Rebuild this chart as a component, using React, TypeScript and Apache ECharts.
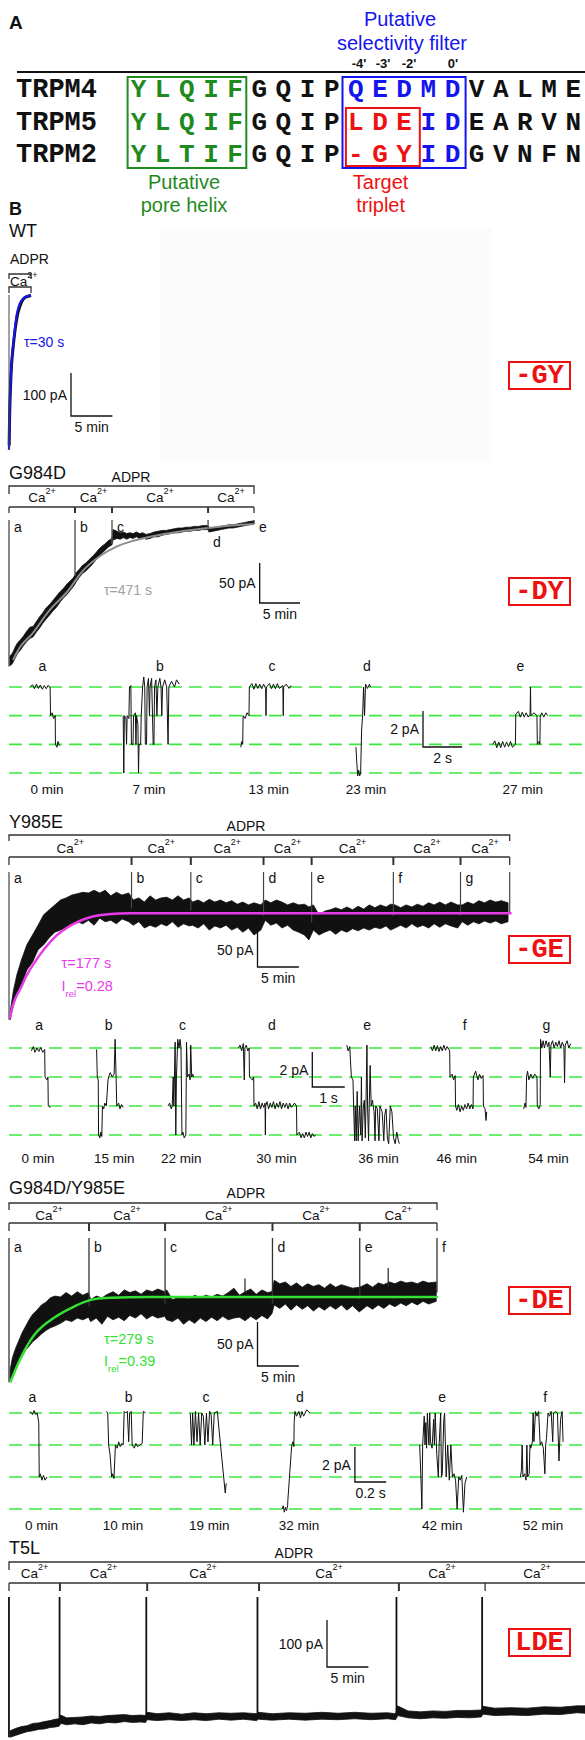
import React, { useEffect, useRef } from "react";
import * as echarts from "echarts";

const SANS = 'Arial, "Liberation Sans", Helvetica, sans-serif';
const MONO = '"Liberation Mono", "Courier New", "DejaVu Sans Mono", monospace';

const C_GREEN = "#1f8a1f";
const C_BLUE = "#1414ee";
const C_RED = "#ee1111";
const C_MAG = "#e83ae8";
const C_LIME = "#33e033";
const C_DASH = "#3ee83e";
const C_GRAY = "#8c8c8c";
const C_INK = "#111111";

// ===================== A: alignment =====================
const SEQ_NAMES = ["TRPM4", "TRPM5", "TRPM2"];
const SEQ_TRPM4 = ["Y","L","Q","I","F","G","Q","I","P","Q","E","D","M","D","V","A","L","M","E"];
const SEQ_TRPM5 = ["Y","L","Q","I","F","G","Q","I","P","L","D","E","I","D","E","A","R","V","N"];
const SEQ_TRPM2 = ["Y","L","T","I","F","G","Q","I","P","-","G","Y","I","D","G","V","N","F","N"];
// g = pore helix, k = other, b = selectivity filter, r = target triplet
const CLS_TRPM4 = "gggggkkkkbbbbbkkkkk";
const CLS_TRPM5 = "gggggkkkkrrrbbkkkkk";
const CLS_TRPM2 = "gggggkkkkrrrbbkkkkk";
const PRIME_LABELS = ["-4'", "-3'", "-2'", "0'"];

// ===================== B: WT (min, pA) =====================
const WT_TRACE = [[0.02,-350],[0.1,-262],[0.3,-165],[0.55,-112],[0.8,-72],[1.1,-40],[1.5,-17],[1.9,-6],[2.3,-3],[2.66,-1]];
const WT_FIT = [[0,-360],[0.05,-300],[0.11,-244],[0.2,-195],[0.34,-151],[0.45,-125],[0.57,-105],[0.74,-74],[0.97,-42],[1.32,-19],[1.78,-7],[2.2,-3],[2.66,-1]];
const WT_SPIKES = [[0, 0, -360]];
const WT_CA_TIMES = [0, 2.66];

// ===================== G984D (min, pA) =====================
const DY_BAND = [
  [0.1,-182,-170],[0.3,-181,-168],[0.5,-178,-165],[0.8,-172,-158],[1.1,-166,-153],[1.4,-163,-150],[1.8,-157,-145],[2.2,-152,-139],
  [2.6,-148,-134],[3.0,-146,-133],[3.4,-140,-127],[3.8,-135,-121],[4.2,-129,-116],[4.6,-124,-110],[5.1,-118,-105],[5.5,-113,-100],
  [5.9,-109,-95],[6.3,-103,-90],[6.8,-97,-85],[7.2,-93,-80],[7.6,-88,-76],[8.0,-83,-72],[8.2,-80,-68],
  [8.3,-78,-66],[8.7,-72,-62],[9.1,-67,-57],[9.5,-64,-54],[9.9,-60,-50],[10.3,-56,-46],[10.7,-51,-42],[11.1,-46,-37],
  [11.5,-42,-33],[11.9,-38,-30],[12.3,-34,-26],[12.78,-31,-23],
  [12.9,-25,-12],[13.4,-23,-14],[13.8,-24,-16],[14.2,-22,-15],[14.6,-24,-17],[15.0,-22,-16],[15.4,-23,-17],[15.8,-21,-15],
  [16.2,-23,-17],[16.6,-22,-16],[17.0,-24,-18],[17.5,-23,-17],[18.0,-21,-15],[18.5,-21,-14],[19.0,-19,-13],[19.5,-18,-13],
  [20.0,-17,-12],[20.5,-16,-11],[21.0,-16,-10],[21.5,-15,-10],[22.0,-14,-9],[22.5,-14,-9],[23.0,-13,-8],[23.5,-13,-8],
  [24.0,-12,-7],[24.7,-12,-7],
  [24.8,-15,-9],[25.3,-14,-10],[25.8,-13,-9],[26.3,-12,-8],[26.8,-11,-7],[27.3,-10,-6],[27.8,-10,-6],[28.3,-9,-5],
  [28.8,-8,-4],[29.3,-7,-3],[29.8,-6,-2],[30.4,-5,-1]
];
const DY_FIT = [[0.5,-175],[1.5,-157],[2.98,-141],[5.09,-112],[7.2,-90],[9.2,-63],[11.3,-45],[13.4,-33],[15.4,-26],[17.5,-21],[19.6,-17],[22.1,-13],[24.7,-10],[27.5,-7],[30.4,-5]];
const DY_SPIKES = [[0, 0, -183], [8.19, -70, 0], [12.78, -30, 0], [24.7, -12, 0], [30.4, -5, 0]];
const DY_CA_TIMES = [0, 8.19, 12.78, 24.7, 30.4];
const DY_LETTERS = ["a", "b", "c", "d", "e"];

// ===================== Y985E (min, pA) =====================
const GE_BAND = [
  [0.14,-211,-200],[0.54,-190,-169],[0.95,-176,-147],[1.49,-161,-126],[2.16,-140,-104],[2.84,-129,-90],[3.51,-111,-76],
  [4.19,-104,-61],[4.86,-94,-54],[5.54,-86,-47],[6.22,-83,-40],[6.89,-80,-37],[7.57,-76,-33],[8.24,-71,-31],[8.92,-74,-29],
  [9.59,-69,-30],[10.27,-76,-26],[10.95,-66,-30],[11.62,-71,-26],[12.3,-69,-34],[12.97,-74,-29],[13.65,-67,-33],[14.46,-71,-30],
  [15.0,-76,-40],[15.68,-71,-37],[16.35,-80,-43],[17.03,-76,-34],[17.7,-79,-40],[18.38,-74,-37],[19.05,-77,-36],[19.73,-71,-40],
  [20.41,-79,-34],[21.08,-74,-40],[21.76,-77,-37],[22.16,-76,-43],[22.84,-80,-40],[23.51,-74,-44],[24.19,-83,-39],[24.86,-77,-43],
  [25.54,-80,-40],[26.22,-76,-44],[26.89,-83,-41],[27.57,-79,-46],[28.24,-86,-43],[28.92,-80,-47],[29.59,-90,-44],[30.41,-83,-47],
  [30.95,-69,-40],[31.62,-76,-44],[32.3,-73,-40],[32.97,-80,-43],[33.65,-76,-47],[34.32,-83,-44],[35.0,-86,-47],[35.68,-90,-46],
  [36.22,-97,-50],[36.76,-83,-47],[37.43,-90,-61],[38.11,-86,-56],[38.78,-83,-54],[39.46,-89,-51],[40.14,-83,-54],[40.81,-86,-50],
  [41.49,-81,-54],[42.16,-84,-49],[42.84,-80,-53],[43.51,-83,-47],[44.19,-79,-51],[44.86,-81,-47],[45.54,-77,-50],[46.08,-83,-46],
  [46.62,-80,-47],[47.3,-76,-51],[47.97,-80,-47],[48.65,-74,-50],[49.32,-79,-46],[50.0,-76,-49],[50.68,-80,-44],[51.35,-74,-47],
  [52.03,-79,-43],[52.7,-74,-47],[53.38,-77,-43],[54.19,-80,-47],[54.73,-71,-47],[55.41,-76,-43],[56.08,-71,-46],[56.76,-74,-41],
  [57.43,-70,-44],[58.11,-73,-40],[58.78,-70,-43],[59.46,-74,-41],[60.27,-71,-44]
];
const GE_FIT = [[0.1,-209],[0.68,-183],[1.49,-164],[2.16,-147],[3.28,-126],[4.19,-111],[5.54,-93],[6.6,-83],[7.8,-74],[10.0,-64],[12.3,-60],[14.7,-59],[60.7,-59]];
const GE_SPIKES = [[0,0,-211],[14.8,-52,0],[21.96,-55,0],[30.74,-62,0],[36.55,-72,0],[46.42,-63,0],[54.53,-62,0],[60.47,-58,0]];
const GE_CA_TIMES = [0, 14.8, 21.96, 30.74, 36.55, 46.42, 54.53, 60.47];
const GE_LETTERS = ["a", "b", "c", "d", "e", "f", "g"];

// ===================== G984D/Y985E (min, pA) =====================
const DE_BAND = [
  [0.14,-164,-150],[0.41,-156,-136],[0.81,-148,-125],[1.22,-141,-116],[1.62,-134,-107],[2.03,-127,-100],[2.43,-123,-93],
  [2.84,-118,-87],[3.38,-114,-82],[3.92,-109,-76],[4.46,-105,-73],[5.0,-102,-68],[5.54,-100,-66],[6.22,-97,-67],[6.89,-93,-62],
  [7.57,-95,-66],[8.24,-91,-61],[8.92,-93,-65],[9.6,-90,-62],
  [9.86,-95,-70],[10.54,-91,-66],[11.22,-98,-68],[11.89,-89,-64],[12.57,-93,-61],[13.24,-90,-65],[13.92,-94,-59],[14.59,-88,-62],
  [15.27,-91,-60],[15.95,-86,-64],[16.62,-92,-59],[17.3,-88,-61],[17.97,-91,-58],[18.8,-89,-61],
  [19.05,-93,-59],[19.73,-95,-70],[20.41,-91,-68],[21.08,-98,-67],[21.76,-93,-69],[22.43,-97,-65],[23.11,-91,-68],[23.78,-95,-65],
  [24.46,-90,-67],[25.14,-94,-64],[25.81,-89,-66],[26.49,-93,-62],[27.16,-91,-57],[27.84,-90,-65],[28.51,-94,-61],[29.19,-89,-58],
  [29.86,-93,-64],[30.54,-88,-59],[31.22,-92,-62],[31.75,-86,-61],
  [32.03,-76,-48],[32.7,-80,-52],[33.38,-75,-50],[34.05,-82,-55],[34.73,-76,-51],[35.41,-81,-56],[36.08,-77,-52],[36.76,-83,-55],
  [37.43,-78,-53],[38.11,-82,-57],[38.78,-77,-52],[39.46,-81,-56],[40.14,-76,-53],[40.81,-82,-55],[41.49,-77,-57],[42.3,-84,-56],
  [42.57,-82,-55],[43.24,-77,-52],[43.92,-81,-56],[44.59,-76,-51],[45.27,-80,-53],[45.95,-75,-50],[46.62,-78,-52],[47.3,-74,-49],
  [47.97,-77,-51],[48.65,-73,-50],[49.32,-76,-52],[50.0,-72,-49],[50.68,-75,-51],[51.6,-72,-50]
];
const DE_FIT = [[0.14,-164],[0.36,-159],[1.49,-135],[3.24,-108],[5.54,-90],[7.84,-78],[10.0,-70],[12.3,-68],[16.8,-67],[51.8,-67]];
const DE_SPIKES = [[0,0,-164],[9.66,-78,0],[18.85,-75,0],[31.82,-75,0],[42.36,-70,0],[51.69,-62,0],[45.8,-55,-34],[28.5,-62,-46]];
const DE_CA_TIMES = [0, 9.66, 18.85, 31.82, 42.36, 51.69];
const DE_LETTERS = ["a", "b", "c", "d", "e", "f"];

// ===================== T5L (min, pA) =====================
const LDE_BAND = [
  [0.14,-304,-290],[0.8,-300,-285],[1.5,-296,-281],[2.2,-292,-279],[2.9,-290,-274],[3.6,-287,-273],[4.3,-286,-270],[5.0,-283,-268],
  [5.6,-282,-265],[6.1,-280,-264],
  [6.3,-274,-256],[7.0,-277,-262],[8.0,-275,-261],[9.0,-277,-260],[10.0,-273,-258],[11.0,-275,-259],[12.0,-272,-257],[13.0,-273,-256],
  [14.0,-270,-255],[15.0,-272,-257],[16.0,-271,-256],[16.6,-272,-257],
  [16.8,-266,-250],[18.0,-268,-253],[19.5,-266,-251],[21.0,-268,-254],[22.5,-266,-251],[24.0,-268,-253],[25.5,-265,-251],
  [27.0,-267,-252],[28.5,-265,-251],[30.1,-268,-253],
  [30.3,-265,-250],[32.0,-267,-253],[34.0,-265,-251],[36.0,-267,-252],[38.0,-265,-250],[40.0,-266,-252],[42.0,-264,-250],
  [44.0,-266,-252],[46.0,-264,-251],[47.0,-266,-253],
  [47.2,-257,-236],[48.5,-262,-247],[50.0,-264,-249],[51.5,-262,-247],[53.0,-263,-248],[54.5,-261,-246],[56.0,-262,-246],[57.4,-260,-245],
  [57.6,-254,-237],[59.0,-257,-241],[61.0,-256,-240],[63.0,-257,-241],[65.0,-254,-238],[67.0,-255,-239],[69.0,-251,-236],[70.0,-252,-236]
];
const LDE_SPIKES = [[0,0,-304],[6.15,-270,0],[16.69,-262,0],[30.2,-262,0],[47.09,-262,0],[57.5,-252,0]];
const LDE_CA_TIMES = [0, 6.15, 16.69, 30.2, 47.09, 57.5];

// ===================== single channel rows (s, unitary levels) =====================
const LEVELS = [0, -1, -2, -3];
const R1_UNIT_PA = 1.59;
const R2_UNIT_PA = 1.66;
const R3_UNIT_PA = 1.83;

const R1_A = [[1.09,0],[1.2,0.08],[1.3,-0.06],[1.4,0.1],[1.5,-0.05],[1.6,0.07],[1.7,-0.08],[1.8,0.05],[1.9,-0.06],[2.0,0.06],[2.1,-0.02],[2.12,-1],[2.2,-0.9],[2.28,-1.1],[2.36,-1],[2.37,-2],[2.45,-2.1],[2.5,-1.9],[2.57,-2.05]];
const R1_B = [[5.83,-1],[5.86,-3],[5.89,-1],[5.97,-1.1],[6.0,-2],[6.03,-1],[6.12,-1.1],[6.15,0],[6.22,0.05],[6.25,-2],[6.33,-2],[6.36,-1],[6.45,-0.9],[6.48,-2],[6.51,-1],[6.58,-1.3],[6.61,-3],[6.64,-2],[6.72,-2],[6.75,-1],[6.82,0],[6.88,0.35],[6.93,0],[6.96,-2],[7.02,-2],[7.05,0],[7.12,0.3],[7.17,-1],[7.2,0],[7.28,0.3],[7.36,-2],[7.4,-2],[7.43,0],[7.5,0.25],[7.55,-1],[7.6,0],[7.7,0.3],[7.76,0],[7.8,-1],[7.84,0],[7.95,0.25],[8.05,0],[8.12,-2],[8.16,0],[8.3,0.2],[8.45,0],[8.55,0.25],[8.69,0.1]];
const R1_C = [[11.83,-2.1],[11.88,-1.9],[11.93,-2],[11.95,-1],[12.05,-1.1],[12.15,-0.9],[12.25,-1],[12.27,0],[12.4,0.12],[12.5,-0.08],[12.6,0.12],[12.7,-0.05],[12.8,0.1],[12.9,-0.06],[13.0,0.1],[13.1,-0.05],[13.12,-1],[13.14,0],[13.3,0.12],[13.4,-0.06],[13.5,0.1],[13.6,-0.06],[13.7,0.12],[13.8,-0.05],[13.98,0.05],[14.0,-1],[14.02,0],[14.15,0.1],[14.3,-0.05],[14.4,0.05]];
const R1_D = [[17.71,-2.1],[17.75,-2.6],[17.8,-3.1],[17.85,-2.9],[17.9,-3.1],[17.95,-3.0],[18.0,-1.5],[18.05,-1],[18.1,0],[18.15,-1],[18.2,0.1],[18.3,-0.05],[18.4,0.1],[18.45,0]];
const R1_E = [[24.69,-2],[24.8,-1.88],[24.9,-2.12],[25.0,-1.92],[25.1,-2.12],[25.2,-1.9],[25.3,-2.1],[25.4,-1.92],[25.5,-2.08],[25.6,-1.9],[25.7,-2.1],[25.85,-2],[25.87,-0.95],[26.0,-0.85],[26.1,-1.05],[26.2,-0.88],[26.3,-1.05],[26.4,-0.9],[26.5,-1.05],[26.6,-0.95],[26.62,0],[26.64,-1],[26.8,-0.9],[26.95,-1],[26.97,-2],[27.05,-1.9],[27.1,-2],[27.12,-1],[27.2,-0.9],[27.3,-1.05],[27.4,-0.9],[27.5,-1]];
const R1_LETTERS = ["a", "b", "c", "d", "e"];
const R1_TIMES = ["0 min", "7 min", "13 min", "23 min", "27 min"];

const R2_A = [[0.69,-0.1],[0.75,0.05],[0.8,-0.15],[0.86,0],[0.92,-0.12],[0.98,0.02],[1.04,-0.15],[1.1,-0.05],[1.11,-1],[1.17,-1.1],[1.2,-1.0],[1.21,-2],[1.28,-2.05]];
const R2_B = [[2.7,-0.05],[2.72,-1],[2.75,-1.1],[2.76,-3],[2.8,-3.1],[2.83,-2.9],[2.86,-3.05],[2.88,-2],[2.92,-2.1],[2.95,-1.9],[3.0,-2],[3.05,-1.1],[3.07,-1],[3.12,-0.85],[3.18,-1],[3.24,-0.9],[3.27,0.3],[3.3,-1],[3.32,-2],[3.38,-1.9],[3.42,-2.1],[3.47,-1.95],[3.52,-2.05]];
const R2_C = [[4.9,-2],[4.95,-1.9],[5.0,-2.1],[5.03,-2],[5.06,-1],[5.08,-2],[5.12,0.2],[5.14,-3],[5.16,-1],[5.2,0.3],[5.24,0],[5.27,0.3],[5.3,0],[5.33,-3],[5.36,-2.9],[5.4,-3.1],[5.45,-3],[5.47,0.2],[5.5,-1],[5.55,-0.9],[5.58,-1.1],[5.6,0.1],[5.63,-1],[5.66,-0.9],[5.69,-1]];
const R2_D = [[7.07,0],[7.12,0.1],[7.17,-0.1],[7.22,0.15],[7.25,-1.1],[7.27,0],[7.31,0.1],[7.36,-0.1],[7.4,0],[7.41,-1],[7.5,-1.1],[7.54,-1],[7.55,-2],[7.6,-1.9],[7.65,-2.1],[7.7,-1.85],[7.75,-2.1],[7.8,-1.9],[7.85,-2.05],[7.89,-1.9],[7.9,-3],[7.91,-2],[7.95,-1.85],[8.0,-2.1],[8.05,-1.9],[8.1,-2.05],[8.15,-1.85],[8.2,-2.1],[8.25,-1.9],[8.3,-2.05],[8.35,-1.85],[8.4,-2.1],[8.45,-1.9],[8.5,-2.05],[8.55,-1.9],[8.6,-2.1],[8.65,-1.9],[8.7,-2.05],[8.8,-1.9],[8.86,-2],[8.87,-3],[8.95,-2.9],[9.0,-3.1],[9.05,-2.95],[9.1,-3.1],[9.15,-2.9],[9.2,-3.05],[9.25,-2.9],[9.3,-3.1],[9.35,-2.95],[9.4,-3.05],[9.45,-3]];
const R2_E = [[10.41,0.1],[10.45,-0.1],[10.5,0.05],[10.55,-1],[10.6,-1.1],[10.62,-2],[10.65,-3.2],[10.67,-2],[10.7,-3.2],[10.73,-1.5],[10.76,-3.2],[10.8,-2],[10.84,-3],[10.86,-1],[10.88,-3.2],[10.92,-2],[10.95,-1.8],[10.98,-3.1],[11.0,-2],[11.03,0.1],[11.05,-2],[11.08,-3.2],[11.1,-2],[11.13,-0.6],[11.16,-2],[11.2,-1.8],[11.25,-2.2],[11.28,-3.2],[11.3,-2],[11.35,-2.1],[11.4,-3.2],[11.43,-2],[11.5,-2.2],[11.55,-3.2],[11.58,-2.3],[11.62,-2.1],[11.66,-3.1],[11.7,-3.3],[11.75,-2],[11.8,-2.2],[11.85,-3.1],[11.9,-3.3],[11.95,-2.9],[12.0,-3.2],[12.03,-3.3]];
const R2_F = [[13.0,0.05],[13.05,-0.1],[13.1,0.1],[13.15,-0.1],[13.2,0.08],[13.25,-0.12],[13.3,0.05],[13.35,-0.1],[13.4,0.1],[13.45,-0.08],[13.5,0.05],[13.58,-0.1],[13.59,-1],[13.65,-0.9],[13.7,-1.1],[13.75,-0.95],[13.76,-2],[13.8,-2.15],[13.85,-1.95],[13.9,-2.2],[13.95,-2],[14.0,-2.15],[14.05,-1.95],[14.1,-2.1],[14.15,-1.9],[14.2,-2.1],[14.25,-1.95],[14.3,-2.1],[14.31,-1],[14.38,-0.8],[14.45,-1.1],[14.5,-0.9],[14.55,-1.05],[14.61,-0.95],[14.62,-2],[14.67,-2.1],[14.7,-2.5],[14.72,-2.2]];
const R2_G = [[15.86,-2.1],[15.9,-1.9],[15.93,-2.05],[15.95,-1],[15.98,-0.8],[16.02,-1.1],[16.08,-0.9],[16.14,-1.05],[16.2,-0.9],[16.27,-1],[16.28,-2],[16.33,-2.1],[16.37,-1.95],[16.38,0.3],[16.42,0],[16.46,0.25],[16.5,0],[16.55,0.25],[16.6,0.05],[16.64,0.2],[16.68,-1],[16.7,0.1],[16.75,0.25],[16.8,0],[16.85,0.2],[16.9,0.05],[16.95,0.25],[17.0,0],[17.05,0.2],[17.1,0.05],[17.12,-1.2],[17.14,0.1],[17.2,0.25],[17.25,0],[17.31,0.15]];
const R2_LETTERS = ["a", "b", "c", "d", "e", "f", "g"];
const R2_TIMES = ["0 min", "15 min", "22 min", "30 min", "36 min", "46 min", "54 min"];

const R3_A = [[0.136,0.05],[0.15,-0.05],[0.16,0.08],[0.17,-0.05],[0.18,0],[0.19,-0.3],[0.193,-2],[0.2,-1.9],[0.21,-2.1],[0.22,-1.95],[0.23,-2.1],[0.243,-2]];
const R3_B = [[0.621,0.05],[0.63,0],[0.636,-1],[0.645,-1.3],[0.655,-2],[0.662,-1.9],[0.67,-2.05],[0.679,-1],[0.69,-1.1],[0.7,-0.9],[0.71,-1.05],[0.72,-0.95],[0.729,-1],[0.735,0.05],[0.745,0],[0.755,0.05],[0.764,-0.9],[0.77,0],[0.78,0.05],[0.786,-1],[0.8,-1.1],[0.81,-0.95],[0.82,-1.05],[0.835,-1],[0.85,-0.95],[0.857,0.05],[0.871,0]];
const R3_C = [[1.157,0],[1.165,-1],[1.172,0],[1.18,-1],[1.19,0.05],[1.2,-0.9],[1.21,0],[1.22,-1],[1.23,0],[1.24,-0.1],[1.25,-1],[1.26,0],[1.27,-0.9],[1.28,0.05],[1.29,-0.05],[1.3,-1],[1.31,0],[1.33,0.05],[1.34,-0.5],[1.35,-1],[1.36,-1.5],[1.37,-2],[1.38,-2.5],[1.386,-2.2]];
const R3_D = [[1.743,-3],[1.75,-2.9],[1.757,-3.1],[1.764,-2.95],[1.771,-3.05],[1.778,-2.9],[1.78,-2.7],[1.79,-2],[1.8,-1.3],[1.805,-1],[1.812,-0.9],[1.818,-1.05],[1.82,-0.3],[1.825,0.05],[1.835,-0.1],[1.85,0.05],[1.86,-0.15],[1.87,0.05],[1.88,-0.1],[1.9,0.1],[1.921,0]];
const R3_E = [[2.621,-1],[2.63,-2.2],[2.635,-3],[2.64,-1],[2.65,-0.1],[2.655,-1],[2.66,-0.3],[2.665,-1.1],[2.67,0],[2.68,-1],[2.685,0],[2.69,-0.9],[2.7,-1.1],[2.71,-0.2],[2.715,-1],[2.72,0],[2.73,-1.3],[2.74,-2],[2.745,-1],[2.755,0],[2.76,-2],[2.765,-1.9],[2.775,-0.2],[2.78,0],[2.79,-2],[2.8,-1],[2.81,-2.1],[2.82,-1],[2.83,-2],[2.84,-1.9],[2.85,-2.1],[2.86,-3],[2.87,-2],[2.88,-2.1],[2.89,-1.95],[2.9,-3.1],[2.91,-2.2],[2.921,-2]];
const R3_F = [[3.264,-2],[3.27,-1.8],[3.275,-1],[3.28,-2],[3.29,-1.9],[3.3,-2.1],[3.305,-1],[3.31,-2],[3.32,-1.9],[3.325,-1],[3.33,-1.1],[3.34,-0.9],[3.345,0],[3.35,-0.9],[3.36,0.05],[3.37,-0.1],[3.38,0.05],[3.39,-1],[3.4,-0.9],[3.41,-1.1],[3.42,-1.9],[3.425,-1],[3.43,-0.8],[3.44,0],[3.45,-0.1],[3.46,0.05],[3.47,-0.9],[3.475,0],[3.49,0.05],[3.5,0],[3.51,-1.5],[3.52,-0.2],[3.53,0.05],[3.536,-0.9]];
const R3_LETTERS = ["a", "b", "c", "d", "e", "f"];
const R3_TIMES = ["0 min", "10 min", "19 min", "32 min", "42 min", "52 min"];

// ===================== layout (pixels) =====================
const PANEL_KEYS = ["wt", "dy", "r1", "ge", "r2", "de", "r3", "lde"];
const CAL: any = {
  wt: { x0: 9, y0: 295, px: 8.28, py: 0.43, xr: [-1, 3.2], yr: [-380, 20] },
  dy: { x0: 9, y0: 520, px: 8.06, py: 0.8, xr: [-1, 32], yr: [-200, 10] },
  r1: { x0: 9, y0: 687, px: 19.59, py: 28.67, xr: [0, 29.4], yr: [-3.6, 1.4] },
  ge: { x0: 9, y0: 872, px: 8.28, py: 0.7, xr: [-1, 66], yr: [-220, 10] },
  r2: { x0: 9, y0: 1048, px: 32.46, py: 29, xr: [0, 17.75], yr: [-3.6, 1.4] },
  de: { x0: 9, y0: 1238, px: 8.28, py: 0.88, xr: [-1, 60], yr: [-175, 10] },
  r3: { x0: 9, y0: 1413, px: 156.7, py: 32, xr: [0, 3.676], yr: [-3.5, 1.2] },
  lde: { x0: 9, y0: 1597, px: 8.28, py: 0.47, xr: [-1, 70], yr: [-310, 10] },
};
const gi = (k: string) => PANEL_KEYS.indexOf(k);
const X = (k: string, t: number) => CAL[k].x0 + t * CAL[k].px;

function line(k: string, data: any[], color: string, width: number, z = 3, smooth: any = false, dash: any = "solid") {
  return {
    type: "line", xAxisIndex: gi(k), yAxisIndex: gi(k), data, symbol: "none", showSymbol: false,
    smooth, silent: true, z, animation: false,
    lineStyle: { color, width, type: dash },
  };
}
function band(k: string, arr: number[][], color = C_INK) {
  return {
    type: "custom", xAxisIndex: gi(k), yAxisIndex: gi(k), silent: true, z: 2, animation: false,
    data: [[arr[0][0], arr[0][1]]],
    renderItem: (params: any, api: any) => {
      const top = arr.map((d) => api.coord([d[0], d[2]]));
      const bot = arr.slice().reverse().map((d) => api.coord([d[0], d[1]]));
      return { type: "polygon", shape: { points: top.concat(bot) }, style: { fill: color, stroke: color, lineWidth: 0.8 } };
    },
  };
}
function spikeSeries(k: string, arr: number[][], color: string, width: number) {
  return arr.map((s) => line(k, [[s[0], s[1]], [s[0], s[2]]], color, width, 4));
}
function levelSeries(k: string) {
  return LEVELS.map((v) => line(k, [[CAL[k].xr[0], v], [CAL[k].xr[1], v]], C_DASH, 1.6, 1, false, [13, 7]));
}

function txt(text: string, x: number, y: number, o: any = {}) {
  const align = o.align || "center";
  return {
    type: "text", x, y, silent: true, z: 10,
    style: {
      text, fill: o.color || C_INK,
      fontSize: o.size || 14, fontFamily: o.family || SANS, fontWeight: o.weight || "normal",
      align, verticalAlign: "middle", textAlign: align, textVerticalAlign: "middle",
    },
  };
}
function caTxt(x: number, y: number, align = "center") {
  return {
    type: "text", x, y, silent: true, z: 10,
    style: {
      text: "{n|Ca}{s|2+}", align, verticalAlign: "middle", textAlign: align, textVerticalAlign: "middle",
      fontFamily: SANS, fontSize: 13.5, fill: C_INK,
      rich: {
        n: { fontSize: 13.5, lineHeight: 21, fontFamily: SANS, fill: C_INK, color: C_INK, verticalAlign: "middle" },
        s: { fontSize: 9, fontFamily: SANS, fill: C_INK, color: C_INK, verticalAlign: "top" },
      },
    },
  };
}
function irelTxt(val: string, x: number, y: number, color: string) {
  return {
    type: "text", x, y, silent: true, z: 10,
    style: {
      text: "{n|I}{sub|rel}{n|=" + val + "}", align: "left", verticalAlign: "middle", textAlign: "left", textVerticalAlign: "middle",
      fontFamily: SANS, fontSize: 14.5, fill: color,
      rich: {
        n: { fontSize: 14.5, lineHeight: 20, fontFamily: SANS, fill: color, color, verticalAlign: "top" },
        sub: { fontSize: 9.5, fontFamily: SANS, fill: color, color, verticalAlign: "bottom" },
      },
    },
  };
}
function seg(x1: number, y1: number, x2: number, y2: number, w = 1.3, color = "#333") {
  return { type: "line", silent: true, z: 9, shape: { x1, y1, x2, y2 }, style: { stroke: color, lineWidth: w } };
}
function poly(points: number[][], w = 1.3, color = "#222") {
  return { type: "polyline", silent: true, z: 9, shape: { points }, style: { stroke: color, lineWidth: w, fill: "none" } };
}
function rectBox(x: number, y: number, w: number, h: number, color: string, lw = 2) {
  return { type: "rect", silent: true, z: 8, shape: { x, y, width: w, height: h }, style: { stroke: color, lineWidth: lw, fill: "none" } };
}
function adprBracket(x1: number, x2: number, y: number, tick: number, openRight = false) {
  const pts = [[x1, y + tick], [x1, y], [x2, y]];
  if (!openRight) pts.push([x2, y + tick]);
  return poly(pts, 1.3, "#333");
}
function caBrackets(xs: number[], y: number, tick: number, endX?: number) {
  const els: any[] = [seg(xs[0], y, endX !== undefined ? endX : xs[xs.length - 1], y)];
  xs.forEach((x, i) => els.push(seg(x, y, x, y + tick, i === 0 || i === xs.length - 1 ? 1.3 : 2)));
  return els;
}
function scaleBar(x: number, y: number, vLen: number, hLen: number, vLab: string, hLab: string) {
  return [
    poly([[x, y - vLen], [x, y], [x + hLen, y]], 1.3, "#111"),
    txt(vLab, x - 4, y - vLen / 2, { align: "right", size: 14 }),
    txt(hLab, x + hLen / 2, y + 11, { size: 14 }),
  ];
}

function buildOption() {
  const grid = PANEL_KEYS.map((k) => {
    const c = CAL[k];
    return {
      left: c.x0 + c.xr[0] * c.px, top: c.y0 - c.yr[1] * c.py,
      width: (c.xr[1] - c.xr[0]) * c.px, height: (c.yr[1] - c.yr[0]) * c.py,
      containLabel: false, show: false,
    };
  });
  const xAxis = PANEL_KEYS.map((k, i) => ({ type: "value", gridIndex: i, min: CAL[k].xr[0], max: CAL[k].xr[1], show: false }));
  const yAxis = PANEL_KEYS.map((k, i) => ({ type: "value", gridIndex: i, min: CAL[k].yr[0], max: CAL[k].yr[1], show: false }));

  const series: any[] = [];
  series.push(line("wt", WT_TRACE, C_INK, 3, 3, 0.3));
  series.push(line("wt", WT_FIT, C_BLUE, 2.2, 4, 0.3));
  series.push(...spikeSeries("wt", WT_SPIKES, "#444", 1));
  series.push(band("dy", DY_BAND));
  series.push(line("dy", DY_FIT, C_GRAY, 2, 4, 0.4));
  series.push(...spikeSeries("dy", DY_SPIKES, "#555", 1.4));
  series.push(...levelSeries("r1"));
  [R1_A, R1_B, R1_C, R1_D, R1_E].forEach((d) => series.push(line("r1", d, C_INK, 1, 3)));
  series.push(band("ge", GE_BAND));
  series.push(...spikeSeries("ge", GE_SPIKES, "#444", 1.2));
  series.push(line("ge", GE_FIT, C_MAG, 2.5, 5, 0.4));
  series.push(...levelSeries("r2"));
  [R2_A, R2_B, R2_C, R2_D, R2_E, R2_F, R2_G].forEach((d) => series.push(line("r2", d, C_INK, 1, 3)));
  series.push(band("de", DE_BAND));
  series.push(...spikeSeries("de", DE_SPIKES, "#333", 1.3));
  series.push(line("de", DE_FIT, C_LIME, 2.5, 5, 0.4));
  series.push(...levelSeries("r3"));
  [R3_A, R3_B, R3_C, R3_D, R3_E, R3_F].forEach((d) => series.push(line("r3", d, C_INK, 1, 3)));
  series.push(band("lde", LDE_BAND));
  series.push(...spikeSeries("lde", LDE_SPIKES, C_INK, 1.8));

  const g: any[] = [];
  // ----- panel A -----
  g.push(txt("A", 9, 22, { size: 19, weight: "bold", align: "left" }));
  g.push(txt("Putative", 400, 19, { size: 20, color: C_BLUE }));
  g.push(txt("selectivity filter", 402, 43, { size: 20, color: C_BLUE }));
  const PRIME_X = [359, 383, 409, 453];
  PRIME_LABELS.forEach((s, i) => g.push(txt(s, PRIME_X[i], 63, { size: 13, weight: "bold" })));
  g.push(seg(17, 72, 585, 72, 2, "#111"));
  const ROW_Y = [90, 123, 155];
  const seqs = [SEQ_TRPM4, SEQ_TRPM5, SEQ_TRPM2];
  const cls = [CLS_TRPM4, CLS_TRPM5, CLS_TRPM2];
  const colorOf: any = { g: C_GREEN, k: C_INK, b: C_BLUE, r: C_RED };
  SEQ_NAMES.forEach((n, r) => {
    g.push(txt(n, 16, ROW_Y[r], { size: 27, weight: "bold", family: MONO, align: "left" }));
    seqs[r].forEach((ch, j) => g.push(txt(ch, 138.5 + j * 24.15, ROW_Y[r], { size: 26, weight: "bold", family: MONO, color: colorOf[cls[r][j]] })));
  });
  g.push(rectBox(127.6, 77, 118.7, 91, C_GREEN));
  g.push(rectBox(342.5, 77, 123.1, 91, C_BLUE));
  g.push(rectBox(345.9, 108, 73.9, 58, C_RED));
  g.push(txt("Putative", 184, 182, { size: 20, color: C_GREEN }));
  g.push(txt("pore helix", 184, 205, { size: 20, color: C_GREEN }));
  g.push(txt("Target", 380.6, 182, { size: 20, color: C_RED }));
  g.push(txt("triplet", 380.6, 205, { size: 20, color: C_RED }));

  // ----- panel B -----
  g.push(txt("B", 9, 209, { size: 18, weight: "bold", align: "left" }));
  g.push({ type: "rect", silent: true, z: 0, shape: { x: 160, y: 229, width: 332, height: 234 }, style: { fill: "#fbfbfb" } });

  const BOXES: any[] = [["-GY", 362], ["-DY", 578], ["-GE", 936], ["-DE", 1287], ["LDE", 1629]];
  BOXES.forEach(([s, y]) => {
    g.push(rectBox(509, y, 61, 27, C_RED, 2));
    g.push(txt(s, 539.5, y + 14, { size: 27, weight: "bold", family: MONO, color: C_RED }));
  });

  // WT
  g.push(txt("WT", 9, 231, { size: 18, align: "left" }));
  g.push(txt("ADPR", 10, 259, { align: "left" }));
  g.push(adprBracket(X("wt", WT_CA_TIMES[0]), X("wt", WT_CA_TIMES[1]), 274, 5));
  g.push(caTxt(10, 281, "left"));
  g.push(adprBracket(X("wt", WT_CA_TIMES[0]), X("wt", WT_CA_TIMES[1]), 287, 6));
  g.push(txt("\u03c4=30 s", 24, 342, { size: 14, color: C_BLUE, align: "left" }));
  g.push(...scaleBar(71, 416, 100 * CAL.wt.py, 5 * CAL.wt.px, "100 pA", "5 min"));

  const tracePanel = (k: string, title: string, titleY: number, adprX: number, adprY: number, bracketY: number, bTick: number,
    caTimes: number[], caY: number, caLineY: number, caTick: number, letters: string[], letterY: number, letterDY: number[] | null,
    openRight = false, lastCaX?: number) => {
    g.push(txt(title, 9, titleY, { size: 18, align: "left" }));
    g.push(txt("ADPR", adprX, adprY));
    const xs = caTimes.map((t) => X(k, t));
    const endX = openRight ? 600 : xs[xs.length - 1];
    g.push(adprBracket(xs[0], endX, bracketY, bTick, openRight));
    g.push(...caBrackets(xs, caLineY, caTick, openRight ? 600 : undefined));
    const segEnds = openRight ? xs.concat([lastCaX !== undefined ? lastCaX * 2 - xs[xs.length - 1] : endX]) : xs;
    for (let i = 0; i < segEnds.length - 1; i++) g.push(caTxt((segEnds[i] + segEnds[i + 1]) / 2, caY));
    letters.forEach((l, i) => g.push(txt(l, xs[i] + 5, letterY + (letterDY ? letterDY[i] : 0), { align: "left" })));
  };
  tracePanel("dy", "G984D", 473, 131, 477, 486, 8, DY_CA_TIMES, 497, 507, 6, DY_LETTERS, 527, [0, 0, 0, 15, 0]);
  g.push(txt("\u03c4=471 s", 104, 590, { size: 14, color: "#a0a0a0", align: "left" }));
  g.push(...scaleBar(259.7, 603, 50 * CAL.dy.py, 5 * CAL.dy.px, "50 pA", "5 min"));

  tracePanel("ge", "Y985E", 822, 246, 826, 835, 6, GE_CA_TIMES, 848, 857, 8, GE_LETTERS, 878, null);
  g.push(txt("\u03c4=177 s", 61.6, 963, { size: 14.5, color: C_MAG, align: "left" }));
  g.push(irelTxt("0.28", 61.6, 988, C_MAG));
  g.push(...scaleBar(257.5, 967, 50 * CAL.ge.py, 5 * CAL.ge.px, "50 pA", "5 min"));

  tracePanel("de", "G984D/Y985E", 1188, 246, 1193, 1203, 7, DE_CA_TIMES, 1215, 1223, 8, DE_LETTERS, 1247, null);
  g.push(txt("\u03c4=279 s", 104, 1339, { size: 14.5, color: C_LIME, align: "left" }));
  g.push(irelTxt("0.39", 104, 1363, C_LIME));
  g.push(...scaleBar(257.5, 1366, 50 * CAL.de.py, 5 * CAL.de.px, "50 pA", "5 min"));

  tracePanel("lde", "T5L", 1548, 294, 1553, 1562, 8, LDE_CA_TIMES, 1573, 1583, 8, [], 0, null, true, 537);
  g.push(...scaleBar(327, 1667, 100 * CAL.lde.py, 5 * CAL.lde.px, "100 pA", "5 min"));

  const rowLabels = (letters: string[], lx: number[], ly: number, times: string[], tx: number[], ty: number) => {
    letters.forEach((l, i) => g.push(txt(l, lx[i], ly)));
    times.forEach((s, i) => g.push(txt(s, tx[i], ty, { size: 13.5 })));
  };
  rowLabels(R1_LETTERS, [42.5, 160, 272, 367, 520.5], 666, R1_TIMES, [47, 149, 268.7, 366, 522.8], 789);
  g.push(...scaleBar(423, 747, (2 / R1_UNIT_PA) * CAL.r1.py, 2 * CAL.r1.px, "2 pA", "2 s"));
  rowLabels(R2_LETTERS, [39.2, 108.6, 182.5, 272, 367.2, 464.6, 546.3], 1025, R2_TIMES, [38, 114.2, 181.3, 276.5, 378.4, 456.7, 548.5], 1158);
  g.push(...scaleBar(312.3, 1087, (2 / R2_UNIT_PA) * CAL.r2.py, 1 * CAL.r2.px, "2 pA", "1 s"));
  rowLabels(R3_LETTERS, [32.5, 128.7, 206, 300, 442.2, 545.2], 1397, R3_TIMES, [41.4, 123.1, 209.3, 298.9, 442.2, 542.9], 1525);
  g.push(...scaleBar(354.9, 1482, (2 / R3_UNIT_PA) * CAL.r3.py, 0.2 * CAL.r3.px, "2 pA", "0.2 s"));

  return {
    animation: false,
    backgroundColor: "#ffffff",
    grid, xAxis, yAxis, series,
    graphic: { elements: g },
  };
}

export default function App() {
  const ref = useRef<HTMLDivElement>(null);
  useEffect(() => {
    document.body.style.margin = "0";
    document.body.style.overflow = "hidden";
    if (!ref.current) return;
    const chart = echarts.init(ref.current, undefined, { renderer: "svg" });
    chart.setOption(buildOption() as any);
    return () => chart.dispose();
  }, []);
  return <div ref={ref} style={{ width: 585, height: 1740, background: "#fff" }} />;
}
